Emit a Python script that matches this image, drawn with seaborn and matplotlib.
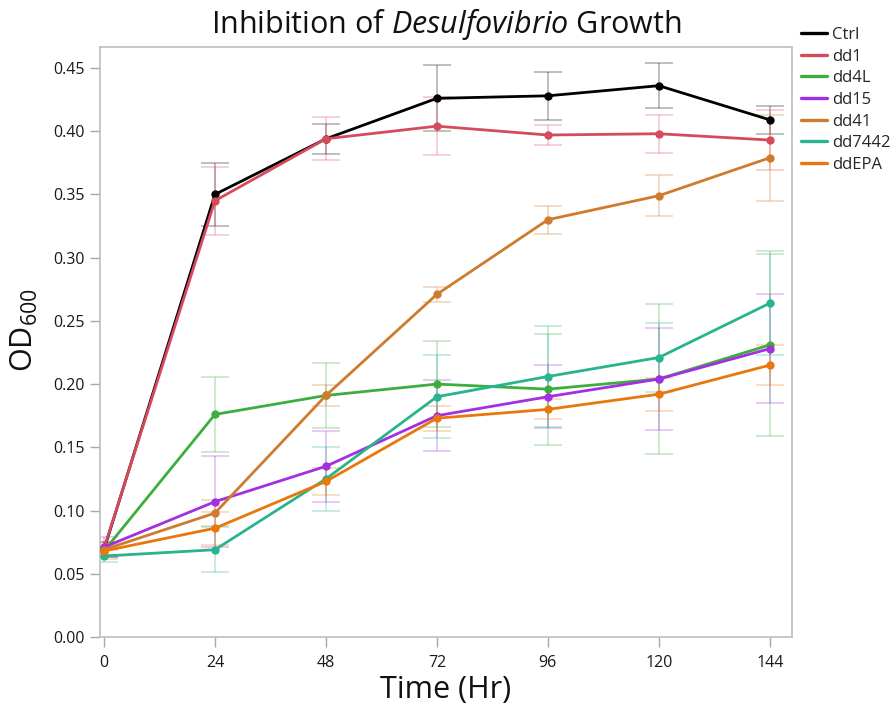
import numpy as np
import pandas as pd
import matplotlib
matplotlib.use("Agg")
import matplotlib.pyplot as plt
from matplotlib.lines import Line2D
import seaborn as sns

# Sampling times (hours)
hours = [0, 24, 48, 72, 96, 120, 144]

# Mean OD600 and standard deviation per strain
ctrl = [0.069, 0.350, 0.394, 0.426, 0.428, 0.436, 0.409]
ctrl_sd = [0.006, 0.025, 0.012, 0.026, 0.019, 0.018, 0.011]
dd1 = [0.070, 0.345, 0.394, 0.404, 0.397, 0.398, 0.393]
dd1_sd = [0.005, 0.027, 0.017, 0.023, 0.008, 0.015, 0.024]
dd4L = [0.068, 0.176, 0.191, 0.200, 0.196, 0.204, 0.231]
dd4L_sd = [0.004, 0.030, 0.026, 0.034, 0.044, 0.059, 0.072]
dd15 = [0.071, 0.107, 0.135, 0.175, 0.190, 0.204, 0.228]
dd15_sd = [0.008, 0.036, 0.028, 0.028, 0.025, 0.040, 0.043]
dd41 = [0.069, 0.098, 0.191, 0.271, 0.330, 0.349, 0.379]
dd41_sd = [0.004, 0.010, 0.008, 0.006, 0.011, 0.016, 0.034]
dd7442 = [0.064, 0.069, 0.125, 0.190, 0.206, 0.221, 0.264]
dd7442_sd = [0.005, 0.018, 0.025, 0.033, 0.040, 0.027, 0.041]
ddEPA = [0.068, 0.086, 0.123, 0.173, 0.180, 0.192, 0.215]
ddEPA_sd = [0.006, 0.013, 0.011, 0.010, 0.008, 0.013, 0.016]

strains = ["Ctrl", "dd1", "dd4L", "dd15", "dd41", "dd7442", "ddEPA"]
means = [ctrl, dd1, dd4L, dd15, dd41, dd7442, ddEPA]
sds = [ctrl_sd, dd1_sd, dd4L_sd, dd15_sd, dd41_sd, dd7442_sd, ddEPA_sd]
colors = ["#000000", "#d64b5c", "#3dae3e", "#a22fe0", "#cf7b2e", "#27b48e", "#e8770c"]

y_ticks = [0.00, 0.05, 0.10, 0.15, 0.20, 0.25, 0.30, 0.35, 0.40, 0.45]
x_ticks = [0, 24, 48, 72, 96, 120, 144]

sns.set_theme(style="white")
plt.rcParams["font.family"] = ["Open Sans", "DejaVu Sans"]
plt.rcParams["mathtext.fontset"] = "custom"
plt.rcParams["mathtext.rm"] = "Open Sans"
plt.rcParams["mathtext.it"] = "Open Sans:italic"

df = pd.DataFrame({
    "hour": np.tile(hours, len(strains)),
    "od": np.concatenate(means),
    "sd": np.concatenate(sds),
    "strain": np.repeat(strains, len(hours)),
})
palette = dict(zip(strains, colors))

fig = plt.figure(figsize=(8.92, 7.09), dpi=100)
ax = fig.add_axes([0.1121, 0.1016, 0.7758, 0.8321])

# Faint error bars underneath the lines
for s in strains:
    sub = df[df["strain"] == s]
    ax.errorbar(sub["hour"], sub["od"], yerr=sub["sd"], fmt="none",
                ecolor=palette[s], alpha=0.28, capsize=10,
                elinewidth=1.3, capthick=1.3, zorder=1)

sns.lineplot(data=df, x="hour", y="od", hue="strain", hue_order=strains,
             palette=palette, marker="o", markersize=6, markeredgewidth=0,
             linewidth=2.0, errorbar=None, legend=False, ax=ax, zorder=3)

ax.set_xlim(-0.86, 148.8)
ax.set_ylim(0, 0.4666)
ax.set_xticks(x_ticks)
ax.set_yticks(y_ticks)
ax.set_yticklabels([f"{v:.2f}" for v in y_ticks])

for sp in ax.spines.values():
    sp.set_color("#bdbdbd")
    sp.set_linewidth(1.2)
ax.tick_params(axis="both", which="major", length=7, width=1.0,
               color="#a8a8a8", labelsize=11.5, labelcolor="#1a1a1a",
               left=True, bottom=True, direction="out")
ax.tick_params(axis="x", pad=6)
ax.tick_params(axis="y", pad=4)

ax.set_xlabel("Time (Hr)", fontsize=22, color="#111111")
ax.set_ylabel(r"OD$_{600}$", fontsize=22, color="#111111")
ax.xaxis.set_label_coords(0.5, -0.064)
ax.yaxis.set_label_coords(-0.086, 0.52)
ax.set_title(r"Inhibition of $\it{Desulfovibrio}$ Growth", fontsize=22,
             color="#111111", pad=10)

handles = [Line2D([0], [0], color=palette[s], lw=2.4) for s in strains]
fig.legend(handles, strains, loc="upper left", bbox_to_anchor=(0.898, 0.962),
           frameon=False, fontsize=12, handlelength=1.55, handletextpad=0.3,
           labelspacing=0.34, borderaxespad=0, borderpad=0)

fig.savefig("out.png", dpi=100)
